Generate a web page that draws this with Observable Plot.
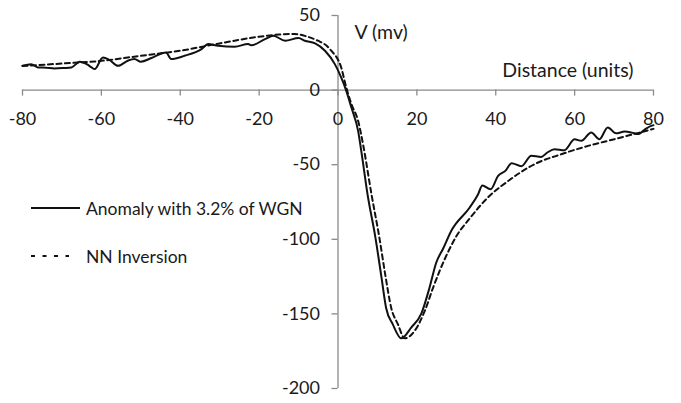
<!DOCTYPE html>
<html>
<head>
<meta charset="utf-8">
<script src="https://cdn.jsdelivr.net/npm/d3@7"></script>
<script src="https://cdn.jsdelivr.net/npm/@observablehq/plot@0.6"></script>
<style>
  html, body { margin: 0; padding: 0; background: #fff; }
  #wrap { position: relative; width: 681px; height: 403px; font-family: Lato, "Open Sans", sans-serif; }
  #legend { position: absolute; left: 31px; top: 196px; font-size: 17.5px; color: #1a1a1a; }
  .item { display: flex; align-items: center; height: 24px; margin-bottom: 24px; }
  .sample { width: 55px; }
</style>
</head>
<body>
<div id="wrap"></div>
<script>
// Solid: anomaly with 3.2% white Gaussian noise
const anomalyX = [-80,-77.8,-76.1,-74,-71.9,-69.5,-67.6,-65.5,-63.5,-62.5,-61.7,-59.6,-57.9,-55.8,-53.3,-51.6,-50,-47.3,-43.6,-42.3,-38.9,-34.6,-32.9,-30.4,-26.2,-22.8,-22,-18.5,-16.4,-13.4,-10,-8.4,-5.8,-3.3,-0.8,0.8,2.1,3.4,5.1,5.9,7.5,9.5,11,12.2,13.9,16.05,18.6,21.1,23.2,24.9,26.7,28.7,33.3,35.5,36.6,38.7,40.6,42.5,44,46.5,49,51.5,53,54.9,57.4,60,61.7,64.2,66.3,68.4,70.5,72.7,74.5,76,78,79.4,80];
const anomalyV = [16.3,17.4,15.2,15,14.5,14.8,15.2,19,17,15.2,14.1,21.9,20.1,16.3,19.7,20.8,19,21.5,25.2,20.8,23,27.5,30.9,29.7,29.1,30.9,30,34.2,36.4,33.1,34.9,33.1,31.3,26.4,17.4,8.5,-0.5,-11.7,-27.3,-40.7,-70,-99,-125,-146,-157,-166.4,-159,-150,-132.5,-115.7,-106,-94.4,-79,-70,-64,-66.5,-57.5,-54,-49,-51,-44,-44.8,-42,-39.6,-40.3,-33,-34,-28.4,-32.9,-25,-29,-27.8,-28.5,-29.5,-26,-24,-23.5];
// Dashed: NN inversion
const nnX = [-80,-70,-60,-50,-40,-30,-20,-15,-11,-8,-5.1,-3,-1.7,0.8,2.1,3.4,5.1,6.4,8.5,10.5,12,13.5,15.2,16.9,19.4,22,24.1,25.8,28,30,33.4,38,43.1,49.8,56.6,63.4,70.1,75,80];
const nnV = [16.2,17.8,19.6,23,26.4,31.3,35.8,37.2,37.6,36,33.1,30,26.4,15.2,1.7,-9.4,-20.6,-37,-70,-99,-124,-146,-157,-166.4,-161.5,-148,-132.5,-121,-108,-98,-86,-72,-61,-49.7,-43,-37.4,-32.9,-29.5,-26];
const xTicks = [-80,-60,-40,-20,0,20,40,60,80];
const yTicks = [50,0,-50,-100,-150,-200];
const seriesNames = ["Anomaly with 3.2% of WGN", "NN Inversion"];
const xLabel = "Distance (units)";
const yLabel = "V (mv)";

const anomaly = anomalyX.map((x, i) => ({x, v: anomalyV[i]}));
const nn = nnX.map((x, i) => ({x, v: nnV[i]}));

const axisColor = "#8a8a8a";
const textColor = "#1a1a1a";

const chart = Plot.plot({
  width: 681,
  height: 403,
  marginLeft: 22,
  marginRight: 28,
  marginTop: 15,
  marginBottom: 15,
  x: {domain: [-80, 80], axis: null},
  y: {domain: [-200, 50], axis: null},
  style: {fontFamily: "Lato, 'Open Sans', sans-serif", fontSize: "18px", color: textColor, background: "#fff"},
  marks: [
    // axis lines through the origin
    Plot.ruleY([0], {stroke: axisColor, strokeWidth: 1.3}),
    Plot.ruleX([0], {stroke: axisColor, strokeWidth: 1.3}),
    // tick marks
    Plot.ruleX(xTicks, {x: d => d, y1: 0, y2: 0, insetBottom: -6, stroke: axisColor, strokeWidth: 1.3}),
    Plot.ruleY(yTicks, {y: d => d, x1: 0, x2: 0, insetLeft: -6, stroke: axisColor, strokeWidth: 1.3}),
    // tick labels
    Plot.text(xTicks, {x: d => d, y: 0, dy: 29, text: d => String(d), fill: textColor, fontSize: 18}),
    Plot.text(yTicks, {x: 0, y: d => d, dx: -18, textAnchor: "end", text: d => String(d), fill: textColor, fontSize: 18}),
    // axis titles
    Plot.text([yLabel], {frameAnchor: "top-left", dx: 332, dy: 17, textAnchor: "start", lineAnchor: "middle", fill: textColor, fontSize: 19.5}),
    Plot.text([xLabel], {frameAnchor: "top-right", dx: -20, dy: 55, textAnchor: "end", lineAnchor: "middle", fill: textColor, fontSize: 19.5}),
    // series
    Plot.line(nn, {x: "x", y: "v", stroke: "#111", strokeWidth: 2, strokeDasharray: "5,3.5", curve: "monotone-x"}),
    Plot.line(anomaly, {x: "x", y: "v", stroke: "#111", strokeWidth: 2, curve: "monotone-x"})
  ]
});

const wrap = document.getElementById("wrap");
wrap.appendChild(chart);

const legend = document.createElement("div");
legend.id = "legend";
const samples = [{len: 49, dash: "none"}, {len: 38, dash: "4,7.5"}];
seriesNames.forEach((name, i) => {
  const item = document.createElement("div");
  item.className = "item";
  item.innerHTML = `<div class="sample"><svg width="${samples[i].len}" height="6" style="display:block"><line x1="0" y1="3" x2="${samples[i].len}" y2="3" stroke="#111" stroke-width="2" stroke-dasharray="${samples[i].dash}"/></svg></div><span>${name}</span>`;
  legend.appendChild(item);
});
wrap.appendChild(legend);
</script>
</body>
</html>
